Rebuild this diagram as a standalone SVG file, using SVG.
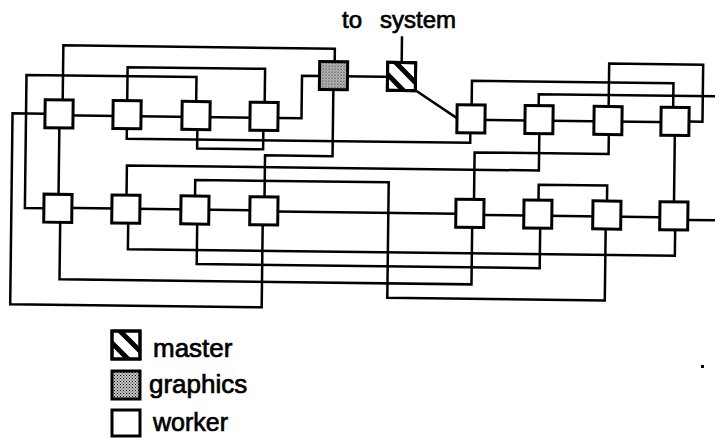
<svg xmlns="http://www.w3.org/2000/svg" width="715" height="438" viewBox="0 0 715 438">
<style>
.c{fill:none;stroke:#000;stroke-width:2.5;stroke-linejoin:miter;stroke-linecap:square}
.w{fill:#fff;stroke:#000;stroke-width:3}
.g{fill:url(#stip);stroke:#000;stroke-width:3}
.m{fill:#fff;stroke:#000;stroke-width:3}
.h{stroke:#000;stroke-width:5}
.t{font-family:"Liberation Sans",Arial,Helvetica,sans-serif;font-weight:normal;fill:#000;stroke:#000;stroke-width:0.7}
</style>
<defs>
<pattern id="stip" width="3" height="3" patternUnits="userSpaceOnUse">
<rect width="3" height="3" fill="#c8c8c8"/>
<rect width="1" height="1" fill="#000"/>
<rect x="1.5" y="1.5" width="1" height="1" fill="#222"/>
</pattern>
<clipPath id="mclip"><rect x="0" y="0" width="28" height="28"/></clipPath>
<symbol id="hatch" viewBox="0 0 28 28" overflow="visible">
<rect class="m" x="0" y="0" width="28" height="28"/>
<g clip-path="url(#mclip)">
<line class="h" x1="2" y1="-6" x2="34" y2="26"/>
<line class="h" x1="-6" y1="6" x2="26" y2="38"/>
</g>
<rect x="0" y="0" width="28" height="28" fill="none" stroke="#000" stroke-width="3"/>
</symbol>
</defs>

<g transform="rotate(0.7 360 200)">
<g id="connectors">
<path class="c" d="M58 119 H300.5 V76.5 H400"/>
<path class="c" d="M400 62 V37"/>
<path class="c" d="M414 89.5 L456 117"/>
<path class="c" d="M470 118.5 H674"/>
<path class="c" d="M688 117.5 H701.5 V60.5 H607.5 V103.5"/>
<path class="c" d="M470.5 103.5 V79.5 H672 V103.5"/>
<path class="c" d="M537.5 103.5 V92 H740"/>
<path class="c" d="M126 131.5 V141.5 H469.5 V131.5"/>
<path class="c" d="M196.5 131.5 V150.5 H262.5 V131.5"/>
<path class="c" d="M61.5 103.5 V49 H333 V62"/>
<path class="c" d="M126 103.5 V70 H263.5 V103.5"/>
<path class="c" d="M195 103.5 V79 H25 V212 H44"/>
<path class="c" d="M44 117.5 H11.5 V308.5 H263 V226"/>
<path class="c" d="M58.5 131.5 V198"/>
<path class="c" d="M332 90 V156.5 H264.5 V198"/>
<path class="c" d="M538.5 131.5 V168.3 H126.5 V198"/>
<path class="c" d="M608 131.5 V151 H474 V198"/>
<path class="c" d="M195 198 V182 H388.5 V297.5 H606 V226"/>
<path class="c" d="M58 211.5 H250"/>
<path class="c" d="M278 212.5 H456"/>
<path class="c" d="M484 213.5 H660"/>
<path class="c" d="M688 216 H740"/>
<path class="c" d="M538.5 198 V182.5 H607 V198"/>
<path class="c" d="M674 131.5 V198"/>
<path class="c" d="M60.5 226 V283 H472.5 V226"/>
<path class="c" d="M128.5 226 V252 H675.5 V226"/>
<path class="c" d="M197.5 226 V266 H540.5 V226"/>
</g>

<g id="L1"><rect class="w" x="44" y="103.5" width="28" height="28"/></g>
<g id="L2"><rect class="w" x="112" y="103.5" width="28" height="28"/></g>
<g id="L3"><rect class="w" x="181" y="103.5" width="28" height="28"/></g>
<g id="L4"><rect class="w" x="249" y="103.5" width="28" height="28"/></g>
<g id="graphics"><rect class="g" x="318" y="62" width="28" height="28"/></g>
<g id="master"><use href="#hatch" x="386" y="62" width="28" height="28"/></g>
<g id="R1"><rect class="w" x="456" y="103.5" width="28" height="28"/></g>
<g id="R2"><rect class="w" x="524" y="103.5" width="28" height="28"/></g>
<g id="R3"><rect class="w" x="593" y="103.5" width="28" height="28"/></g>
<g id="R4"><rect class="w" x="660" y="103.5" width="28" height="28"/></g>
<g id="BL1"><rect class="w" x="44" y="198" width="28" height="28"/></g>
<g id="BL2"><rect class="w" x="112" y="198" width="28" height="28"/></g>
<g id="BL3"><rect class="w" x="181" y="198" width="28" height="28"/></g>
<g id="BL4"><rect class="w" x="250" y="198" width="28" height="28"/></g>
<g id="BR1"><rect class="w" x="456" y="198" width="28" height="28"/></g>
<g id="BR2"><rect class="w" x="524" y="198" width="28" height="28"/></g>
<g id="BR3"><rect class="w" x="593" y="198" width="28" height="28"/></g>
<g id="BR4"><rect class="w" x="660" y="198" width="28" height="28"/></g>
</g>

<text class="t" font-size="24" y="28"><tspan x="342">to</tspan><tspan x="380">system</tspan></text>

<g id="legend">
<use href="#hatch" x="112" y="331" width="28" height="28"/>
<text class="t" font-size="26" x="153" y="357">master</text>
<rect class="g" x="112" y="371" width="28" height="28"/>
<text class="t" font-size="26" x="149" y="393">graphics</text>
<rect class="w" x="112" y="410" width="28" height="26"/>
<text class="t" font-size="25" x="153" y="431">worker</text>
</g>
<rect x="701" y="365" width="3" height="3" fill="#000"/>
</svg>
